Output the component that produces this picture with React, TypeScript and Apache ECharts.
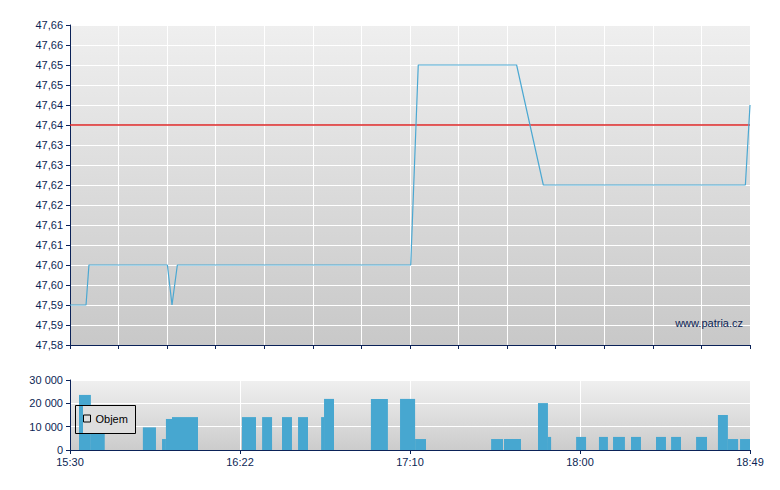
import React, { useEffect, useRef } from "react";
import * as echarts from "echarts";

// Positions on the x scale are in "slots" (0 = 15:30 open, 28 = 18:49 close)
const timeLabels = ["15:30", "16:22", "17:10", "18:00", "18:49"];

// price line
const priceX = [0, 0.66, 0.78, 4.01, 4.2, 4.42, 14.03, 14.34, 18.39, 19.49, 27.81, 28];
const priceY = [47.59, 47.59, 47.6, 47.6, 47.59, 47.6, 47.6, 47.65, 47.65, 47.62, 47.62, 47.64];

// reference (previous close) level, spanning the whole session
const referenceX = [0, 28];
const referencePrice = 47.635;

// volume bars: start slot, end slot, volume
const volStart = [0.37, 0.86, 3.0, 3.79, 3.95, 4.2, 7.08, 7.91, 8.73, 9.39, 10.34, 10.46, 12.39, 13.59, 14.21, 17.34, 17.87, 19.27, 19.68, 20.84, 21.78, 22.36, 23.1, 24.13, 24.75, 25.78, 26.68, 27.09, 27.59];
const volEnd = [0.86, 1.43, 3.54, 3.95, 4.2, 5.27, 7.66, 8.32, 9.14, 9.8, 10.46, 10.87, 13.09, 14.21, 14.66, 17.83, 18.57, 19.68, 19.81, 21.25, 22.15, 22.85, 23.51, 24.54, 25.16, 26.23, 27.09, 27.51, 28.0];
const volValue = [23600, 9700, 9700, 4700, 13300, 14100, 14100, 14100, 14100, 14100, 14100, 21900, 21900, 21900, 4700, 4700, 4700, 20100, 5600, 5600, 5600, 5600, 5600, 5600, 5600, 5600, 15000, 4700, 4700];

const NAVY = "#0b2258";
const TEXT = "#0c1f55";
const FONT = "'Liberation Sans', Arial, sans-serif";
const BAR = "#47a7d0";
const LINE = "#4ba8d2";
const RED = "#dc2626";

export default function App() {
  const ref = useRef<HTMLDivElement>(null);

  useEffect(() => {
    if (!ref.current) return;
    const chart = echarts.init(ref.current, undefined, { renderer: "svg" });

    const priceData = priceX.map((x, i) => [x, priceY[i]]);
    const refData = referenceX.map((x) => [x, referencePrice]);
    const volData = volStart.map((s, i) => [s, volEnd[i], volValue[i]]);

    const fmtPrice = (v: number) =>
      (Math.round(v * 100 + 1e-4) / 100).toFixed(2).replace(".", ",");
    const fmtVol = (v: number) =>
      String(Math.round(v)).replace(/\B(?=(\d{3})+(?!\d))/g, " ");

    const option: any = {
      animation: false,
      grid: [
        {
          left: 70,
          top: 25,
          width: 680,
          height: 320,
          show: true,
          borderWidth: 0,
          backgroundColor: new echarts.graphic.LinearGradient(0, 0, 0, 1, [
            { offset: 0, color: "#efefef" },
            { offset: 1, color: "#c8c8c8" },
          ]),
        },
        {
          left: 70,
          top: 380,
          width: 680,
          height: 70,
          show: true,
          borderWidth: 0,
          backgroundColor: new echarts.graphic.LinearGradient(0, 0, 0, 1, [
            { offset: 0, color: "#f0f0f0" },
            { offset: 1, color: "#cccccc" },
          ]),
        },
      ],
      xAxis: [
        {
          type: "value",
          gridIndex: 0,
          min: 0,
          max: 28,
          interval: 2,
          axisLine: { show: true, lineStyle: { color: NAVY, width: 1 } },
          axisTick: { show: true, length: 4, lineStyle: { color: NAVY } },
          axisLabel: { show: false },
          splitLine: { show: true, lineStyle: { color: "#ffffff", width: 1 } },
        },
        {
          type: "value",
          gridIndex: 1,
          min: 0,
          max: 28,
          interval: 7,
          axisLine: { show: true, lineStyle: { color: NAVY, width: 1 } },
          axisTick: { show: true, length: 4, lineStyle: { color: NAVY } },
          axisLabel: {
            show: true,
            margin: 6,
            color: TEXT,
            fontSize: 11,
            fontFamily: FONT,
            formatter: (v: number) => timeLabels[Math.round(v / 7)] ?? "",
          },
          splitLine: { show: true, lineStyle: { color: "#ffffff", width: 1 } },
        },
      ],
      yAxis: [
        {
          type: "value",
          gridIndex: 0,
          min: 47.58,
          max: 47.66,
          interval: 0.005,
          axisLine: { show: true, lineStyle: { color: NAVY, width: 1 } },
          axisTick: { show: true, length: 4, lineStyle: { color: NAVY } },
          axisLabel: {
            margin: 7,
            color: TEXT,
            fontSize: 11,
            fontFamily: FONT,
            formatter: fmtPrice,
          },
          splitLine: { show: true, lineStyle: { color: "#ffffff", width: 1 } },
        },
        {
          type: "value",
          gridIndex: 1,
          min: 0,
          max: 30000,
          interval: 10000,
          axisLine: { show: true, lineStyle: { color: NAVY, width: 1 } },
          axisTick: { show: true, length: 4, lineStyle: { color: NAVY } },
          axisLabel: {
            margin: 7,
            color: TEXT,
            fontSize: 11,
            fontFamily: FONT,
            formatter: fmtVol,
          },
          splitLine: { show: true, lineStyle: { color: "#ffffff", width: 1 } },
        },
      ],
      legend: {
        show: true,
        data: ["Objem"],
        left: 83,
        top: 413,
        padding: 0,
        z: 20,
        icon: "rect",
        itemWidth: 7,
        itemHeight: 7,
        itemStyle: { color: "transparent", borderColor: "#000000", borderWidth: 1 },
        textStyle: { color: "#000000", fontSize: 11, fontFamily: FONT },
        selectedMode: false,
      },
      graphic: [
        {
          type: "rect",
          z: 10,
          shape: { x: 83, y: 406, width: 52, height: 27 },
          style: { fill: "#dedede" },
          silent: true,
        },
        {
          type: "rect",
          z: 11,
          shape: { x: 75.5, y: 405.5, width: 60, height: 28 },
          style: { fill: "none", stroke: "#000000", lineWidth: 1 },
          silent: true,
        },
        {
          type: "text",
          z: 10,
          x: 743,
          y: 323,
          style: {
            text: "www.patria.cz",
            fill: TEXT,
            font: `11px ${FONT}`,
            textAlign: "right",
            textVerticalAlign: "middle",
          },
          silent: true,
        },
      ],
      series: [
        {
          type: "line",
          name: "Reference",
          xAxisIndex: 0,
          yAxisIndex: 0,
          data: refData,
          showSymbol: false,
          symbol: "none",
          lineStyle: { color: RED, width: 1.3 },
          itemStyle: { color: RED },
          z: 2,
          silent: true,
        },
        {
          type: "line",
          name: "Cena",
          xAxisIndex: 0,
          yAxisIndex: 0,
          data: priceData,
          showSymbol: false,
          symbol: "none",
          lineStyle: { color: LINE, width: 1.2 },
          itemStyle: { color: LINE },
          z: 3,
        },
        {
          type: "custom",
          name: "Objem",
          xAxisIndex: 1,
          yAxisIndex: 1,
          data: volData,
          encode: { x: [0, 1], y: 2 },
          itemStyle: { color: BAR },
          clip: true,
          renderItem: (params: any, api: any) => {
            const p0 = api.coord([api.value(0), api.value(2)]);
            const p1 = api.coord([api.value(1), 0]);
            return {
              type: "rect",
              shape: {
                x: p0[0],
                y: p0[1],
                width: p1[0] - p0[0],
                height: p1[1] - p0[1],
              },
              style: { fill: BAR },
            };
          },
        },
      ],
    };

    chart.setOption(option);
    return () => chart.dispose();
  }, []);

  return (
    <div
      ref={ref}
      style={{ position: "fixed", left: 0, top: 0, width: 780, height: 490, background: "#ffffff" }}
    />
  );
}
